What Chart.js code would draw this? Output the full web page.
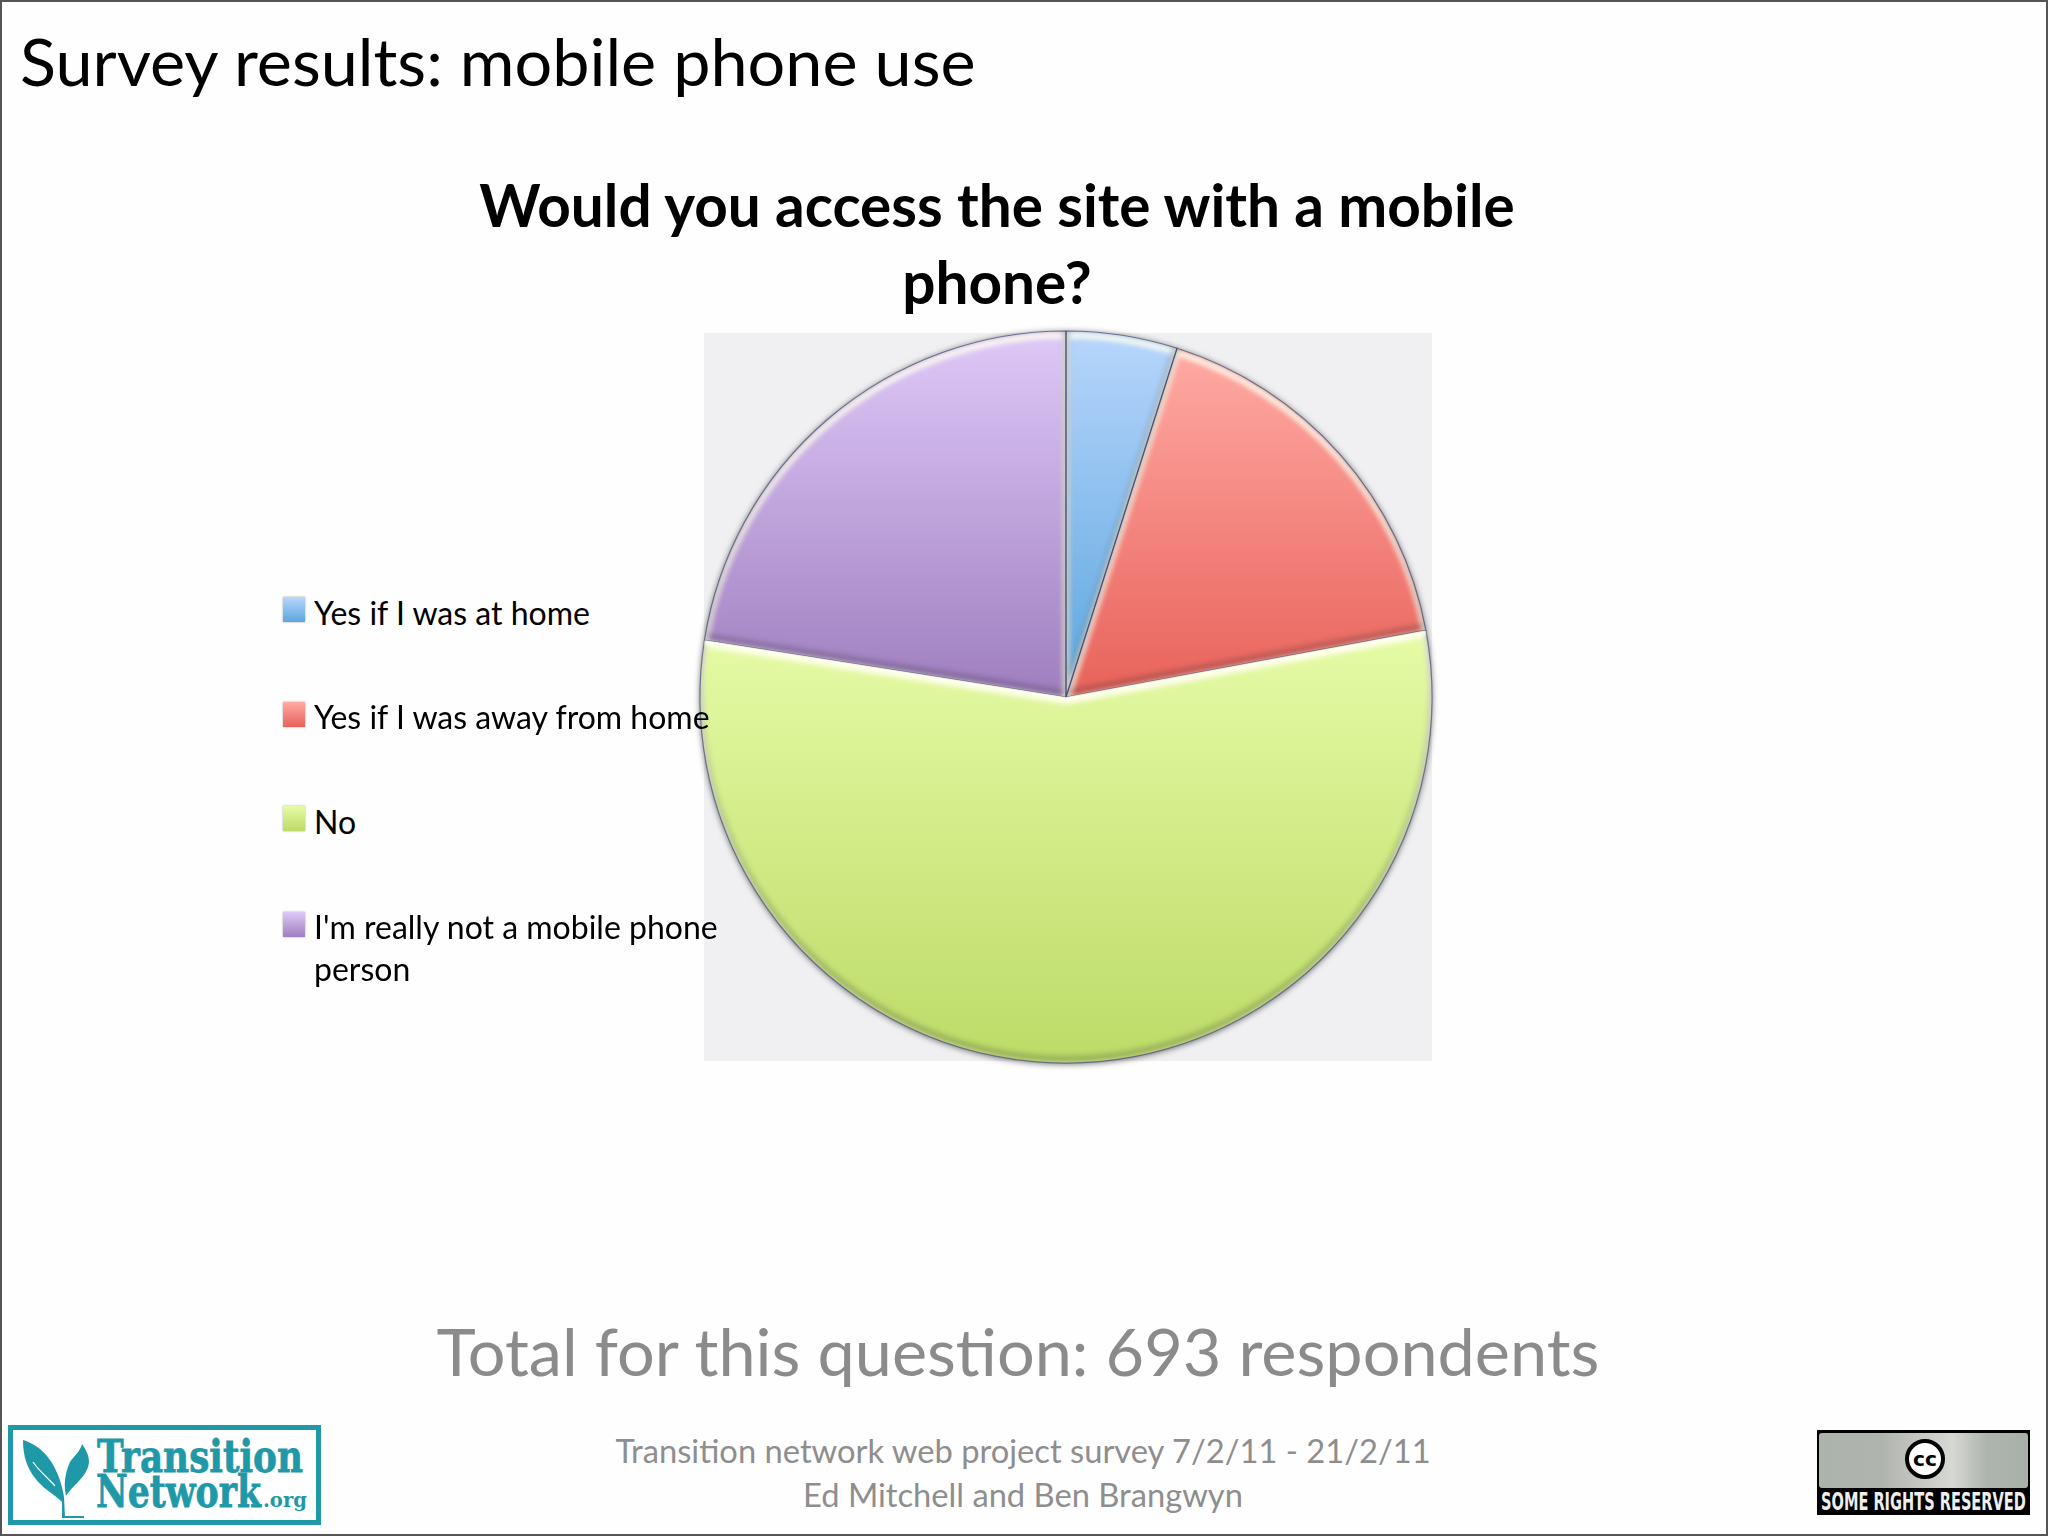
<!DOCTYPE html>
<html lang="en">
<head>
    <meta charset="UTF-8">
    <title>Survey results: mobile phone use</title>
    <script src="https://cdn.jsdelivr.net/npm/chart.js"></script>
    <style>
        html, body { margin: 0; padding: 0; background: #fefefe; }
        #page {
            position: relative; width: 2048px; height: 1536px; overflow: hidden;
            font-family: Lato, sans-serif; color: #000; box-sizing: border-box;
        }
        #frame { position: absolute; inset: 0; border: 2px solid #555; box-sizing: border-box; z-index: 5; pointer-events: none; }
        .txt { position: absolute; white-space: nowrap; }
        #heading { left: 20px; top: 18px; font-size: 66.5px; line-height: 84px; }
        #question { left: 397px; width: 1200px; top: 166px; font-size: 58.5px; line-height: 77px; font-weight: 700; text-align: center; white-space: normal; }
        #total { left: 318px; width: 1400px; top: 1307px; font-size: 66.6px; line-height: 86px; color: #8b8b8b; text-align: center; }
        #credit { left: 523px; width: 1000px; top: 1429px; font-size: 32.7px; line-height: 44px; color: #8e8e8e; text-align: center; }
        #plate { position: absolute; left: 704px; top: 333px; width: 728px; height: 728px; background: #f0f0f2; }
        #chart-box { position: absolute; left: 689px; top: 320px; width: 754px; height: 754px; }
        #legend { position: absolute; left: 0; top: 0; z-index: 3; }
        .sw { position: absolute; left: 283px; width: 22px; height: 25px; box-shadow: 0 0 2px rgba(0,0,0,.35); }
        .lab { position: absolute; left: 314px; font-size: 32px; line-height: 42px; white-space: pre; }
        #logo { position: absolute; left: 0; top: 1400px; }
        #cc { position: absolute; left: 1817px; top: 1430px; }
    </style>
</head>
<body>
<div id="page">
    <div id="frame"></div>
    <div class="txt" id="heading">Survey results: mobile phone use</div>
    <div class="txt" id="question">Would you access the site with a mobile<br>phone?</div>
    <div id="plate"></div>
    <div id="chart-box"><canvas id="pieChart"></canvas></div>
    <div id="legend"></div>
    <div class="txt" id="total">Total for this question: 693 respondents</div>
    <div class="txt" id="credit">Transition network web project survey 7/2/11 - 21/2/11<br>Ed Mitchell and Ben Brangwyn</div>

    <svg id="logo" width="360" height="136" viewBox="0 0 360 136">
        <rect x="10.5" y="27.5" width="308" height="95" fill="#fff" stroke="#1f98a8" stroke-width="5"/>
        <path d="M23 40 C36 44 50 54 58 75 C61 83 63 90 64 97 L65 117 L62 117 L62 102 C54 94 42 88 35 78 C27 68 23 56 23 40 Z" fill="#1f98a8"/>
        <path d="M82 44 C86 50 89 55 89 62 C88 76 74 84 66 96 C64 86 64 76 70 62 C74 56 80 52 82 44 Z" fill="#1f98a8"/>
        <path d="M33 62 C40 72 48 78 55 86" fill="none" stroke="#fff" stroke-width="1.2"/>
        <rect x="62" y="116" width="22" height="2" fill="#1f98a8"/>
        <text class="fit" data-x="97" data-y="72" data-w="206" font-family="'DejaVu Serif'" font-weight="700" font-size="45" fill="#1f98a8" stroke="#1f98a8" stroke-width="0.8">Transition</text>
        <text class="fit" data-x="96" data-y="107" data-w="165" font-family="'DejaVu Serif'" font-weight="700" font-size="44" fill="#1f98a8" stroke="#1f98a8" stroke-width="0.8">Network</text>
        <text class="fit" data-x="263" data-y="107" data-w="44" font-family="'DejaVu Serif'" font-weight="700" font-size="21" fill="#1f98a8">.org</text>
    </svg>

    <svg id="cc" width="213" height="85" viewBox="0 0 213 85">
        <defs>
            <linearGradient id="ccGrey" x1="0" x2="1" y1="0" y2="0">
                <stop offset="0" stop-color="#acb2ac"/>
                <stop offset="0.3" stop-color="#b0b4ae"/>
                <stop offset="0.64" stop-color="#d6d8d4"/>
                <stop offset="0.8" stop-color="#aeb4ae"/>
                <stop offset="1" stop-color="#a9afa9"/>
            </linearGradient>
        </defs>
        <rect x="0" y="0" width="213" height="85" fill="#000"/>
        <rect x="2" y="3" width="209" height="55" rx="3" fill="url(#ccGrey)"/>
        <circle cx="108" cy="29" r="18" fill="#fff" stroke="#000" stroke-width="4"/>
        <text class="fit" data-x="96" data-y="36" data-w="24" font-family="'DejaVu Sans'" font-weight="700" font-size="20">cc</text>
        <text class="fit" data-x="4" data-y="80" data-w="205" font-family="'DejaVu Sans'" font-weight="700" font-size="24" fill="#eee">SOME RIGHTS RESERVED</text>
    </svg>
</div>

<script>
    const categories = ["Yes if I was at home", "Yes if I was away from home", "No", "I'm really not a mobile phone\nperson"];
    const respondents = [34, 119, 384, 156];
    const lightColours = ["#b8d6fc", "#ffaaa4", "#e6fba6", "#dfc9f8"];
    const darkColours = ["#5ba6de", "#e8625a", "#bcdb67", "#9f7ebf"];
    const swatchTops = [597, 702, 806, 912];
    const labelTops = [592, 696, 801, 906];

    // squeeze the logo lettering to its width without stretching the text box
    document.querySelectorAll("text.fit").forEach(t => {
        const sx = t.dataset.w / t.getComputedTextLength();
        t.setAttribute("transform", "translate(" + t.dataset.x + " " + t.dataset.y + ") scale(" + sx + " 1)");
    });

    // vertical extent of a slice, so each one gets its own top-to-bottom gradient
    function sliceExtent(index, cy, r) {
        const total = respondents.reduce((a, b) => a + b, 0);
        const before = respondents.slice(0, index).reduce((a, b) => a + b, 0);
        const a0 = before / total * 2 * Math.PI;
        const a1 = (before + respondents[index]) / total * 2 * Math.PI;
        const ys = [cy, cy - r * Math.cos(a0), cy - r * Math.cos(a1)];
        if (a0 <= Math.PI && a1 >= Math.PI) ys.push(cy + r);
        if (a0 <= 0 || a1 >= 2 * Math.PI) ys.push(cy - r);
        return [Math.min(...ys), Math.max(...ys)];
    }

    function sliceFill(context) {
        const chart = context.chart;
        const i = context.dataIndex;
        const area = chart.chartArea;
        if (!area) return darkColours[i];
        const r = Math.min(area.right - area.left, area.bottom - area.top) / 2;
        const cy = (area.top + area.bottom) / 2;
        const [y0, y1] = sliceExtent(i, cy, r);
        const g = chart.ctx.createLinearGradient(0, y0, 0, y1);
        g.addColorStop(0, lightColours[i]);
        g.addColorStop(1, darkColours[i]);
        return g;
    }

    function slicePath(arc) {
        const p = new Path2D();
        p.moveTo(arc.x, arc.y);
        p.arc(arc.x, arc.y, arc.outerRadius, arc.startAngle, arc.endAngle);
        p.closePath();
        return p;
    }

    // soft drop shadow under the pie and a bevel on each slice
    const bevel = {
        id: "bevel",
        beforeDatasetsDraw(chart) {
            const arc = chart.getDatasetMeta(0).data[0];
            const ctx = chart.ctx;
            ctx.save();
            ctx.shadowColor = "rgba(0,0,0,.6)";
            ctx.shadowBlur = 6;
            ctx.shadowOffsetY = 1;
            ctx.fillStyle = "#999";
            ctx.beginPath();
            ctx.arc(arc.x, arc.y, arc.outerRadius, 0, 2 * Math.PI);
            ctx.fill();
            ctx.restore();
        },
        afterDatasetsDraw(chart) {
            const ctx = chart.ctx;
            const arcs = chart.getDatasetMeta(0).data;
            arcs.forEach(arc => {
                const p = slicePath(arc);
                ctx.save();
                ctx.clip(p);
                ctx.filter = "blur(2.5px)";
                ctx.lineWidth = 7;
                ctx.save();
                ctx.translate(0, 4);
                ctx.strokeStyle = "rgba(255,255,240,.85)";
                ctx.stroke(p);
                ctx.restore();
                ctx.save();
                ctx.translate(0, -4);
                ctx.strokeStyle = "rgba(40,40,40,.22)";
                ctx.stroke(p);
                ctx.restore();
                ctx.restore();
            });
            // thin dark edge, except along the pale top of the green slice
            arcs.forEach((arc, i) => {
                ctx.save();
                ctx.lineWidth = 1.2;
                ctx.strokeStyle = "rgba(50,60,110,.6)";
                if (i === 2) {
                    ctx.beginPath();
                    ctx.arc(arc.x, arc.y, arc.outerRadius, arc.startAngle, arc.endAngle);
                    ctx.stroke();
                } else {
                    ctx.stroke(slicePath(arc));
                }
                ctx.restore();
            });
            // redraw the highlight over the edge where green meets its neighbours
            const green = arcs[2];
            ctx.save();
            ctx.clip(slicePath(green));
            ctx.filter = "blur(1.5px)";
            ctx.lineWidth = 5;
            ctx.strokeStyle = "rgba(255,255,235,.95)";
            ctx.beginPath();
            ctx.moveTo(green.x + green.outerRadius * Math.cos(green.startAngle), green.y + green.outerRadius * Math.sin(green.startAngle) + 2);
            ctx.lineTo(green.x, green.y + 2);
            ctx.lineTo(green.x + green.outerRadius * Math.cos(green.endAngle), green.y + green.outerRadius * Math.sin(green.endAngle) + 2);
            ctx.stroke();
            ctx.restore();
        }
    };

    new Chart(document.getElementById("pieChart").getContext("2d"), {
        type: "pie",
        plugins: [bevel],
        data: {
            labels: categories,
            datasets: [{
                data: respondents,
                backgroundColor: sliceFill,
                borderWidth: 0
            }]
        },
        options: {
            responsive: true,
            maintainAspectRatio: false,
            animation: false,
            layout: { padding: 11 },
            plugins: { legend: { display: false }, title: { display: false }, tooltip: { enabled: false } }
        }
    });

    // legend sits over the pie and is built from the same arrays
    const legendBox = document.getElementById("legend");
    categories.forEach((name, i) => {
        const sw = document.createElement("div");
        sw.className = "sw";
        sw.style.top = swatchTops[i] + "px";
        sw.style.background = "linear-gradient(" + lightColours[i] + "," + darkColours[i] + ")";
        legendBox.appendChild(sw);
        const lab = document.createElement("div");
        lab.className = "lab";
        lab.style.top = labelTops[i] + "px";
        lab.textContent = name;
        legendBox.appendChild(lab);
    });
</script>
</body>
</html>
